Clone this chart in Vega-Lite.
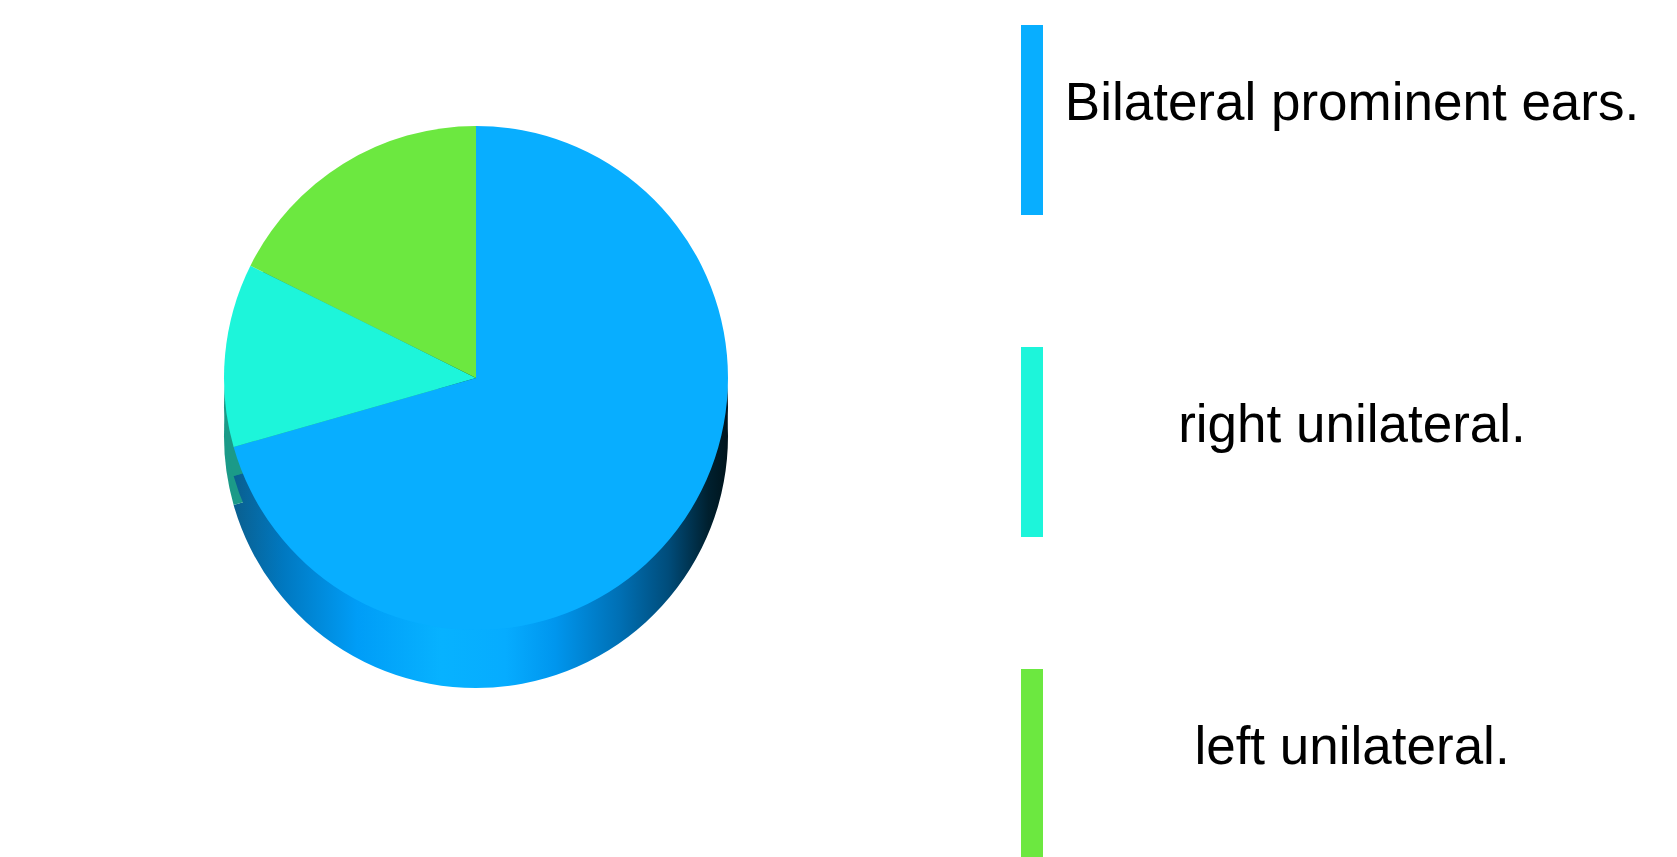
{
  "$schema": "https://vega.github.io/schema/vega-lite/v6.json",
  "width": 952,
  "height": 756,
  "padding": 0,
  "background": "white",
  "config": {"view": {"stroke": null}},
  "data": {"values": [
    {"type": "Bilateral prominent ears.", "count": 36},
    {"type": "right unilateral.", "count": 6},
    {"type": "left unilateral.", "count": 9}
  ]},
  "transform": [{"window": [{"op": "row_number", "as": "rank"}]}],
  "encoding": {
    "theta": {"field": "count", "type": "quantitative", "stack": true},
    "order": {"field": "rank", "type": "quantitative"}
  },
  "layer": [
    {
      "mark": {"type": "arc", "radius": 252, "yOffset": 58},
      "encoding": {
        "fill": {
          "condition": {"test": "datum.type === 'right unilateral.'", "value": "#1b9a88"},
          "value": {
            "gradient": "linear", "x1": 0, "x2": 1, "y1": 0, "y2": 0,
            "stops": [
              {"offset": 0, "color": "#0a5f8f"},
              {"offset": 0.1, "color": "#0078c0"},
              {"offset": 0.25, "color": "#009df7"},
              {"offset": 0.42, "color": "#07b2ff"},
              {"offset": 0.55, "color": "#06acff"},
              {"offset": 0.65, "color": "#0096ee"},
              {"offset": 0.78, "color": "#0070b5"},
              {"offset": 0.88, "color": "#004c7a"},
              {"offset": 0.96, "color": "#00202f"},
              {"offset": 1, "color": "#00141c"}
            ]
          }
        }
      }
    },
    {
      "mark": {"type": "arc", "radius": 252, "yOffset": 29},
      "encoding": {
        "fill": {
          "condition": {"test": "datum.type === 'right unilateral.'", "value": "#1b9a88"},
          "value": {
            "gradient": "linear", "x1": 0, "x2": 1, "y1": 0, "y2": 0,
            "stops": [
              {"offset": 0, "color": "#0a5f8f"},
              {"offset": 0.1, "color": "#0078c0"},
              {"offset": 0.25, "color": "#009df7"},
              {"offset": 0.42, "color": "#07b2ff"},
              {"offset": 0.55, "color": "#06acff"},
              {"offset": 0.65, "color": "#0096ee"},
              {"offset": 0.78, "color": "#0070b5"},
              {"offset": 0.88, "color": "#004c7a"},
              {"offset": 0.96, "color": "#00202f"},
              {"offset": 1, "color": "#00141c"}
            ]
          }
        }
      }
    },
    {
      "mark": {"type": "arc", "radius": 252},
      "encoding": {
        "color": {
          "field": "type",
          "type": "nominal",
          "sort": ["Bilateral prominent ears.", "right unilateral.", "left unilateral."],
          "scale": {
            "domain": ["Bilateral prominent ears.", "right unilateral.", "left unilateral."],
            "range": ["#08aeff", "#1df5da", "#6ce840"]
          },
          "legend": {
            "title": null,
            "orient": "none",
            "legendX": 937,
            "legendY": 25,
            "padding": 0,
            "symbolType": "M-0.1158,-1H0.1158V1H-0.1158Z",
            "symbolSize": 36100,
            "symbolStrokeWidth": 0,
            "labelFont": "Liberation Sans",
            "labelFontSize": 53,
            "labelColor": "#000000",
            "labelAlign": "center",
            "labelBaseline": "alphabetic",
            "labelOffset": 225,
            "labelLimit": 0,
            "rowPadding": 132
          }
        }
      }
    }
  ]
}
